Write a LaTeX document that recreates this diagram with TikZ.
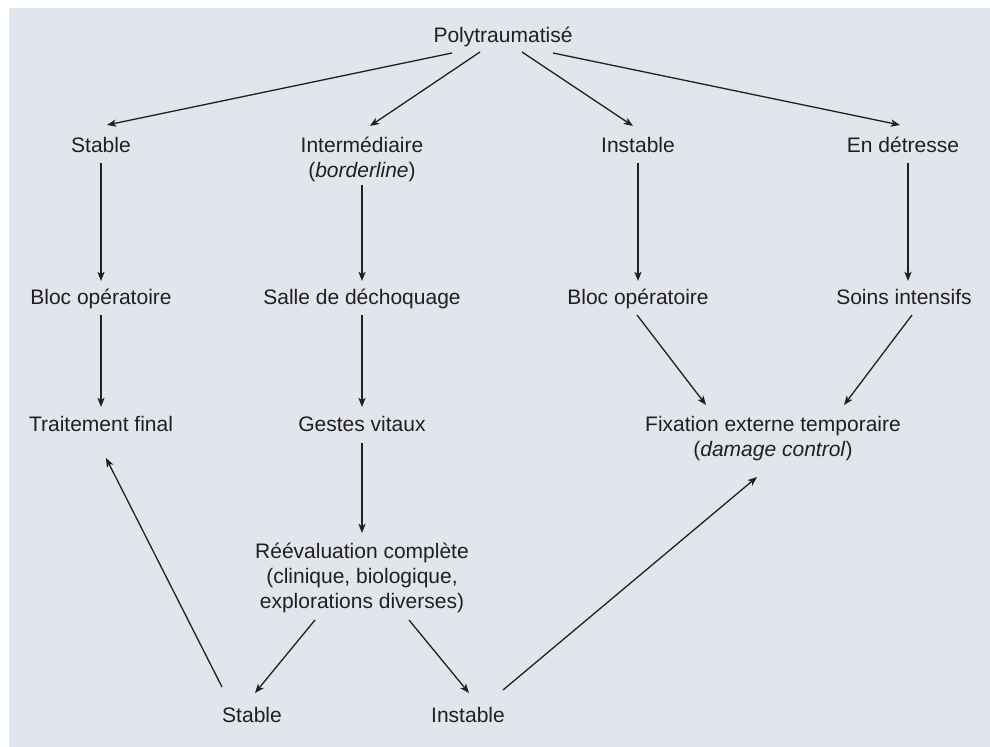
\documentclass[tikz,border=0pt]{standalone}
\usepackage{fontspec}
\setmainfont{Liberation Sans}
\usetikzlibrary{arrows.meta}
\definecolor{bgcol}{RGB}{225,229,236}
\definecolor{ink}{RGB}{35,31,32}

\begin{document}
\begin{tikzpicture}[x=0.5pt,y=-0.5pt,
  lbl/.style={anchor=base,inner sep=0pt,align=center,text=ink,
    font=\fontsize{10.5}{12.6}\selectfont},
  arr/.style={draw=ink,line width=0.65pt,
    -{Stealth[length=4.6pt,width=3.6pt,inset=1.2pt]}}]
  \useasboundingbox (0,0) rectangle (990,747);
  \fill[bgcol] (9,8) rectangle (990,747);

  % Top
  \node[lbl] (p) at (503,43) {Polytraumatisé};

  % Etat du patient (base = last line)
  \node[lbl] (s1) at (101,153) {Stable};
  \node[lbl] (bd) at (362,178) {Intermédiaire\\(\textit{borderline})};
  \node[lbl] (i1) at (638,153) {Instable};
  \node[lbl] (dt) at (903,153) {En détresse};

  % Prise en charge
  \node[lbl] (b1) at (101,305) {Bloc opératoire};
  \node[lbl] (sd) at (362,305) {Salle de déchoquage};
  \node[lbl] (b2) at (638,305) {Bloc opératoire};
  \node[lbl] (si) at (904,305) {Soins intensifs};

  \node[lbl] (tf) at (101,432) {Traitement final};
  \node[lbl] (gv) at (362,432) {Gestes vitaux};
  \node[lbl] (fx) at (773,457) {Fixation externe temporaire\\(\textit{damage control})};

  \node[lbl] (re) at (362,609) {Réévaluation complète\\(clinique, biologique,\\explorations diverses)};

  \node[lbl] (s2) at (252,722) {Stable};
  \node[lbl] (i2) at (468,722) {Instable};

  % Arrows
  \draw[arr] ([shift={(-51,10)}]p.base) -- ([shift={(6,-28)}]s1.base);
  \draw[arr] ([shift={(-23,9)}]p.base) -- ([shift={(8,-52)}]bd.base);
  \draw[arr] ([shift={(19,9)}]p.base) -- ([shift={(-5,-27)}]i1.base);
  \draw[arr] ([shift={(50,10)}]p.base) -- ([shift={(-3,-28)}]dt.base);

  \draw[arr] ([shift={(0,10)}]s1.base) -- ([shift={(0,-24)}]b1.base);
  \draw[arr] ([shift={(0,7)}]bd.base) -- ([shift={(0,-24)}]sd.base);
  \draw[arr] ([shift={(0,10)}]i1.base) -- ([shift={(0,-24)}]b2.base);
  \draw[arr] ([shift={(5,10)}]dt.base) -- ([shift={(4,-24)}]si.base);

  \draw[arr] ([shift={(0,10)}]b1.base) -- ([shift={(0,-25)}]tf.base);
  \draw[arr] ([shift={(0,10)}]sd.base) -- ([shift={(0,-25)}]gv.base);
  \draw[arr] ([shift={(-1,10)}]b2.base) -- ([shift={(-67,-52)}]fx.base);
  \draw[arr] ([shift={(8,10)}]si.base) -- ([shift={(71,-52)}]fx.base);

  \draw[arr] ([shift={(0,11)}]gv.base) -- ([shift={(0,-76)}]re.base);
  \draw[arr] ([shift={(-47,11)}]re.base) -- ([shift={(3,-29)}]s2.base);
  \draw[arr] ([shift={(47,11)}]re.base) -- ([shift={(1,-29)}]i2.base);

  \draw[arr] ([shift={(-30,-35)}]s2.base) -- ([shift={(5,26)}]tf.base);
  \draw[arr] ([shift={(35,-32)}]i2.base) -- ([shift={(-16,20)}]fx.base);
\end{tikzpicture}
\end{document}
